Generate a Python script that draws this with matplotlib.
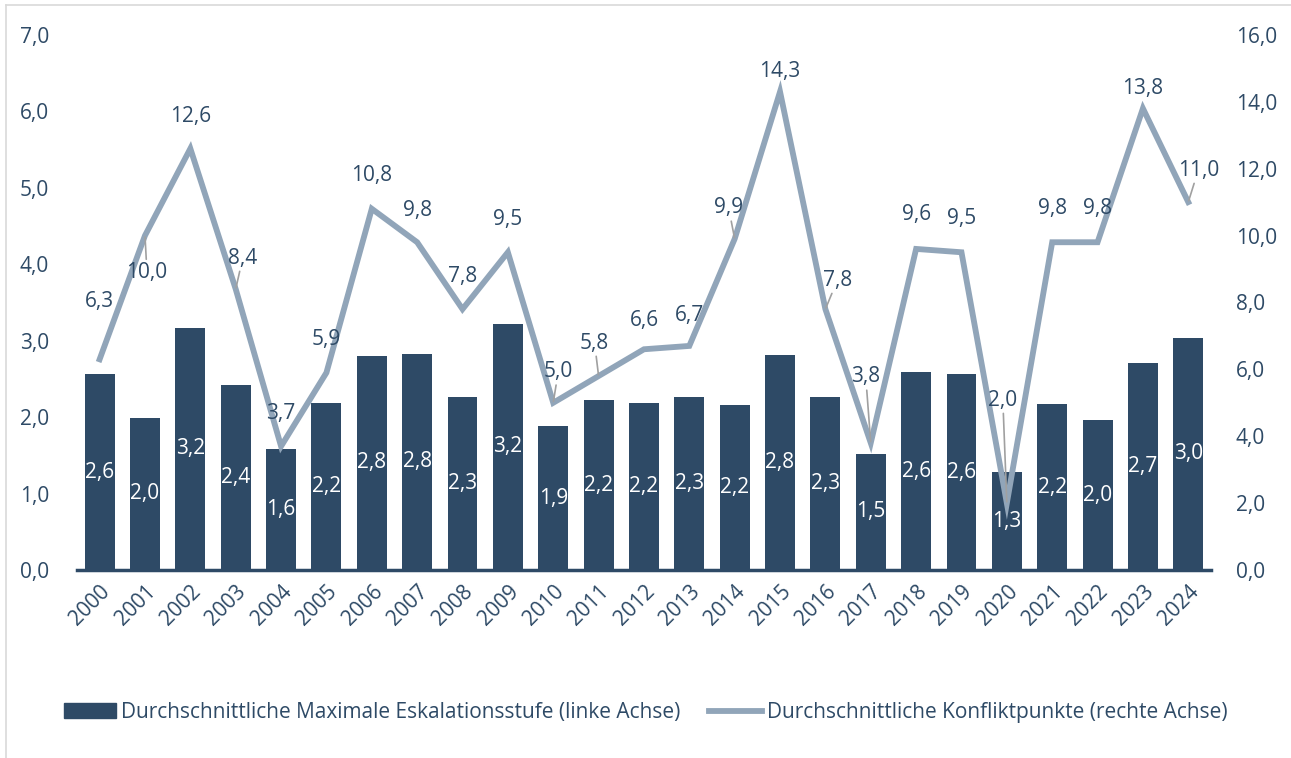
import matplotlib.pyplot as plt
import numpy as np
from matplotlib.lines import Line2D
from matplotlib.patches import Patch

plt.rcParams['font.family'] = ['Open Sans', 'DejaVu Sans']

years = [str(y) for y in range(2000, 2025)]
eskalation = [2.56, 1.99, 3.17, 2.42, 1.58, 2.19, 2.80, 2.83, 2.26, 3.22, 1.88, 2.22, 2.19,
              2.26, 2.16, 2.81, 2.26, 1.52, 2.59, 2.56, 1.28, 2.17, 1.96, 2.71, 3.04]
konfliktpunkte = [6.3, 10.0, 12.6, 8.4, 3.7, 5.9, 10.8, 9.8, 7.8, 9.5, 5.0, 5.8, 6.6,
                  6.7, 9.9, 14.3, 7.8, 3.8, 9.6, 9.5, 2.0, 9.8, 9.8, 13.8, 11.0]

navy = '#2E4A66'
steel = '#91A5B9'
fs = 15

# label offsets in pixels (dx, dy up) for the line labels, and whether a leader line is drawn
line_offsets = [(0, 58, False), (2, -37, True), (0, 32, False), (7, 31, True), (0, 33, False),
                (0, 33, False), (0, 33, False), (0, 32, False), (0, 33, False), (0, 33, False),
                (5, 31, True), (-4, 33, True), (0, 29, False), (0, 30, False), (-6, 31, True),
                (0, 20, False), (12, 29, True), (-5, 66, True), (0, 34, False), (0, 34, False),
                (-4, 103, True), (0, 34, False), (0, 34, False), (0, 20, False), (10, 32, True)]

def fmt(v):
    return '{:.1f}'.format(v).replace('.', ',')

fig = plt.figure(figsize=(12.91, 7.58), dpi=100)
ax = fig.add_axes([0.0596, 0.248, 0.8784, 0.706])
ax2 = ax.twinx()

x = np.arange(len(years))
bars = ax.bar(x, eskalation, 0.66, color=navy, zorder=2)
for xi, v in zip(x, eskalation):
    ax.text(xi, v / 2, fmt(v), color='white', ha='center', va='center', fontsize=fs)

ax2.plot(x, konfliktpunkte, color=steel, lw=4.2, solid_joinstyle='miter', zorder=3)
px2pt = 72 / 100
for xi, v, (dx, dy, lead) in zip(x, konfliktpunkte, line_offsets):
    ax2.annotate(fmt(v), (xi, v), xytext=(dx * px2pt, dy * px2pt), textcoords='offset points',
                 ha='center', va='center', fontsize=fs, color=navy,
                 arrowprops=dict(arrowstyle='-', color='#A0A0A0', lw=1.2, shrinkA=0, shrinkB=1)
                 if lead else None)

ax.set_xlim(-0.5, len(years) - 0.5)
ax.set_ylim(0, 7)
ax2.set_ylim(0, 16)
ax.set_yticks(np.arange(0, 7.1, 1))
ax2.set_yticks(np.arange(0, 16.1, 2))
ax.set_yticklabels([fmt(v) for v in np.arange(0, 7.1, 1)])
ax2.set_yticklabels([fmt(v) for v in np.arange(0, 16.1, 2)])
ax.set_xticks(x)
ax.set_xticklabels(years, rotation=45, ha='right', rotation_mode='anchor')

for a in (ax, ax2):
    for s in a.spines.values():
        s.set_visible(False)
    a.tick_params(length=0, colors=navy, labelsize=fs)
ax.spines['bottom'].set_visible(True)
ax.spines['bottom'].set_color(navy)
ax.spines['bottom'].set_linewidth(2.5)
ax.tick_params(axis='y', pad=20)
ax2.tick_params(axis='y', pad=18)
ax.tick_params(axis='x', pad=8)

handles = [Patch(color=navy), Line2D([0], [0], color=steel, lw=4.2)]
labels = ['Durchschnittliche Maximale Eskalationsstufe (linke Achse)',
          'Durchschnittliche Konfliktpunkte (rechte Achse)']
leg = fig.legend(handles, labels, loc='center', bbox_to_anchor=(0.5, 0.06), ncol=2,
                 frameon=False, fontsize=fs, handlelength=2.5, columnspacing=1.4,
                 handletextpad=0.25, handleheight=0.7)
for t in leg.get_texts():
    t.set_color(navy)

# outer frame (top and left visible)
fig.add_artist(Line2D([0.005, 1.0], [0.993, 0.993], color='#D9D9D9', lw=1.2))
fig.add_artist(Line2D([0.005, 0.005], [0.0, 0.993], color='#D9D9D9', lw=1.2))

fig.savefig('out.png', dpi=100)
